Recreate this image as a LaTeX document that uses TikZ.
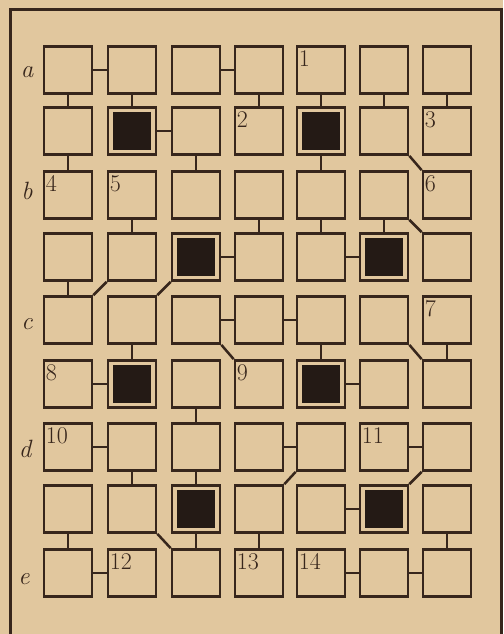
\documentclass[tikz,border=0pt]{standalone}
\usetikzlibrary{calc}
\definecolor{paper}{RGB}{225,199,158}
\definecolor{ink}{RGB}{55,38,28}
\definecolor{dark}{RGB}{36,26,21}
\begin{document}
\begin{tikzpicture}[x=1pt,y=-1pt,
  cell/.style={draw=ink,line width=2.7pt,minimum width=48pt,minimum height=47pt,inner sep=0pt},
  link/.style={draw=ink,line width=2.5pt},
  num/.style={font=\fontsize{24}{24}\selectfont,text=ink,inner sep=0pt,anchor=north west},
  lbl/.style={font=\fontsize{25}{25}\selectfont\itshape,text=ink,inner sep=0pt},
  frameline/.style={draw=ink,line width=3pt}]
\fill[paper] (0,0) rectangle (503,634);
\useasboundingbox (0,0) rectangle (503,634);
\draw[frameline] (10,634) -- (10,10) -- (503,10);
\draw[frameline] (501,10) -- (501,634);
% grid of cells
\foreach \c/\x in {1/68,2/132,3/196,4/259,5/321,6/384,7/447}
  \foreach \r/\y in {1/70,2/131,3/195,4/257,5/320,6/384,7/447,8/509,9/573}
    \node[cell] (n\r\c) at (\x,\y) {};
% black squares
\foreach \n in {n22,n25,n43,n46,n62,n65,n83,n86}
  \fill[dark] ([shift={(6pt,6pt)}]\n.south west) rectangle ([shift={(-6pt,-6pt)}]\n.north east);
% horizontal links
\foreach \a/\b in {n11/n12,n13/n14,n22/n23,n43/n44,n45/n46,n53/n54,n54/n55,
                   n61/n62,n65/n66,n71/n72,n74/n75,n76/n77,n85/n86,n91/n92,n95/n96,n96/n97}
  \draw[link] (\a.east) -- (\b.west);
% vertical links
\foreach \a/\b in {n11/n21,n12/n22,n14/n24,n15/n25,n16/n26,n17/n27,
                   n21/n31,n23/n33,n25/n35,
                   n32/n42,n34/n44,n35/n45,n36/n46,
                   n41/n51,
                   n52/n62,n55/n65,n57/n67,
                   n63/n73,
                   n72/n82,n73/n83,
                   n81/n91,n83/n93,n84/n94,n87/n97}
  \draw[link] (\a.south) -- (\b.north);
% diagonal links (down-right)
\foreach \a/\b in {n26/n37,n36/n47,n53/n64,n56/n67,n82/n93}
  \draw[link] (\a.south east) -- (\b.north west);
% diagonal links (down-left)
\foreach \a/\b in {n42/n51,n43/n52,n75/n84,n77/n86}
  \draw[link] (\a.south west) -- (\b.north east);
% numbers
\foreach \n/\t in {n15/1,n24/2,n27/3,n31/4,n32/5,n37/6,n57/7,n61/8,n64/9,
                   n71/10,n76/11,n92/12,n94/13,n95/14}
  \node[num] (t\n) at ([shift={(3pt,-5pt)}]\n.north west) {\t};
% row letters
\node[lbl] (la) at (27,72) {a};
\node[lbl] (lb) at (27,191) {b};
\node[lbl] (lc) at (27,324) {c};
\node[lbl] (ld) at (25,449) {d};
\node[lbl] (le) at (24,579) {e};
\end{tikzpicture}
\end{document}
